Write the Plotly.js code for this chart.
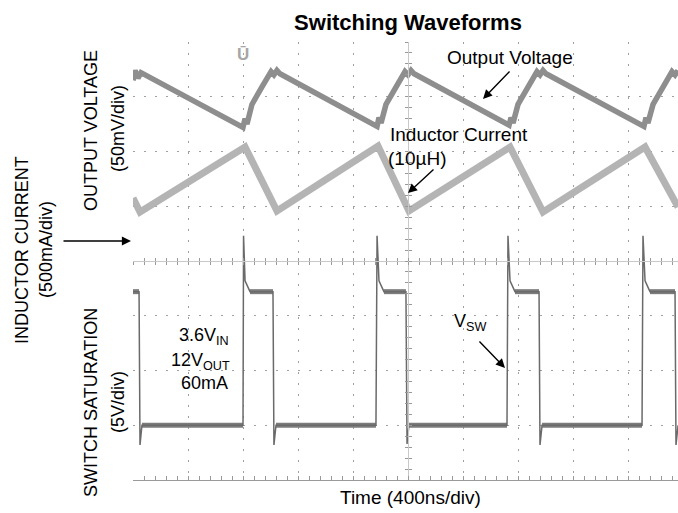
<!DOCTYPE html>
<html>
<head>
<meta charset="utf-8">
<script src="https://cdn.plot.ly/plotly-3.0.1.min.js"></script>
<style>html,body{margin:0;padding:0;background:#fff;}#chart{width:678px;height:513px;}</style>
</head>
<body>
<div id="chart"></div>
<script>
// ---- Channel settings (scope) ----
const TIME_PER_DIV = 400;          // ns/div
const VOUT_SCALE = 50;             // mV/div
const VOUT_OFFSET_DIV = 3.0;
const IL_SCALE = 500;              // mA/div
const IL_OFFSET_DIV = 0.5;
const SW_SCALE = 5;                // V/div
const SW_OFFSET_DIV = -3.06;

// ---- Output voltage ripple (AC coupled, mV) ----
const voutT  = [0, 15, 36, 58, 800, 815, 829, 865, 938, 1004, 1025, 1047, 1069,
                1775, 1789, 1804, 1840, 1913, 1978, 2000, 2022, 2044,
                2735, 2749, 2764, 2800, 2873, 2938, 2960, 2982, 3004,
                3716, 3731, 3745, 3782, 3855, 3920, 3942, 3964];
const voutMV = [15, 24, 17, 22, -28, -20, -25, -7, 9, 23, 20, 24, 21,
                -27, -19, -24, -7, 9, 23, 20, 24, 21,
                -26, -19, -24, -7, 9, 23, 20, 24, 21,
                -27, -19, -24, -7, 9, 23, 20, 24];

// ---- Inductor current (mA) ----
const ilT  = [0, 51, 815, 1047, 1782, 2007, 2742, 2982, 3724, 3964];
const ilMA = [325, 197, 791, 207, 800, 207, 791, 197, 791, 243];

// ---- Switch node voltage (V) ----
const swT = [0, 44, 51, 65, 800, 804, 815, 851, 1018, 1025, 1040,
             1767, 1775, 1789, 1825, 1985, 1993, 2007,
             2720, 2727, 2742, 2778, 2953, 2960, 2975,
             3702, 3709, 3724, 3760, 3942, 3949, 3964];
const swV = [12.5, 12.5, -1.5, 0.3, 0.3, 17.6, 13.5, 12.5, 12.5, -1.5, 0.3,
             0.3, 17.6, 13.5, 12.5, 12.5, -1.4, 0.3,
             0.3, 17.6, 13.5, 12.5, 12.5, -1.5, 0.3,
             0.3, 17.6, 13.5, 12.5, 12.5, -1.5, 0.3];

// convert to screen divisions
const voutDiv = voutMV.map(v => v / VOUT_SCALE + VOUT_OFFSET_DIV);
const ilDiv = ilMA.map(v => v / IL_SCALE + IL_OFFSET_DIV);
const swDiv = swV.map(v => v / SW_SCALE + SW_OFFSET_DIV);

// flat (noisy) segments of the switch waveform
const bandT = [], bandY = [];
for (let i = 0; i < swT.length - 1; i++) {
  if (swV[i] === swV[i + 1]) {
    bandT.push(swT[i], swT[i + 1], null);
    bandY.push(swDiv[i], swDiv[i + 1], null);
  }
}

const XMAX = 3963.6;
const FONT = 'Liberation Sans, Arial, sans-serif';

// plot area in pixels: left 133, right 678, top 42, bottom 480
const L = 133, R = 678, T = 42, B = 480;
function P(px, py) { return {x: (px - L) / (R - L), y: (B - py) / (B - T), xref: 'paper', yref: 'paper'}; }
function txt(text, px, py, opts) {
  return Object.assign(P(px, py), {text: text, showarrow: false,
    font: {family: FONT, size: 18, color: '#000'}, xanchor: 'center', yanchor: 'middle'}, opts || {});
}
function arrow(tx, ty, sx, sy) {
  return Object.assign(P(tx, ty), {text: '', showarrow: true, arrowhead: 2, arrowsize: 1.3,
    arrowwidth: 1.4, arrowcolor: '#000', ax: sx - tx, ay: sy - ty, axref: 'pixel', ayref: 'pixel'});
}

const traces = [
  {x: voutT, y: voutDiv, mode: 'lines', line: {color: '#8e8e8e', width: 5.5}, hoverinfo: 'skip'},
  {x: ilT, y: ilDiv, mode: 'lines', line: {color: '#b4b4b4', width: 7}, hoverinfo: 'skip'},
  {x: bandT, y: bandY, mode: 'lines', line: {color: '#7c7c7c', width: 5}, hoverinfo: 'skip', connectgaps: false},
  {x: swT, y: swDiv, mode: 'lines', line: {color: '#6a6a6a', width: 1.5}, hoverinfo: 'skip'},
  {x: [], y: [], xaxis: 'x2', yaxis: 'y', hoverinfo: 'skip'},
  {x: [], y: [], xaxis: 'x3', yaxis: 'y', hoverinfo: 'skip'},
  {x: [], y: [], xaxis: 'x', yaxis: 'y2', hoverinfo: 'skip'},
  {x: [], y: [], xaxis: 'x', yaxis: 'y3', hoverinfo: 'skip'}
];

const centerX = (5 * TIME_PER_DIV) / XMAX;
const tickStyle = {tickcolor: '#999', ticklen: 3, tickwidth: 1};
const minorX = (side) => ({dtick: TIME_PER_DIV / 5, tick0: 0, ticks: side, ticklen: 3, tickcolor: '#999', showgrid: false});
const minorY = (side) => ({dtick: 0.2, tick0: 0, ticks: side, ticklen: 3, tickcolor: '#999', showgrid: false});

const layout = {
  width: 678, height: 513,
  margin: {l: L, r: 678 - R, t: T, b: 513 - B, pad: 0},
  paper_bgcolor: '#fff', plot_bgcolor: '#fff',
  showlegend: false,
  title: {text: '<b>Switching Waveforms</b>', font: {family: FONT, size: 22, color: '#000'},
          xref: 'paper', x: (408 - L) / (R - L), xanchor: 'center', yref: 'container', y: 1 - 22 / 513, yanchor: 'middle'},
  xaxis: {range: [0, XMAX], dtick: TIME_PER_DIV, tick0: 0, showticklabels: false, zeroline: false,
          showgrid: true, gridcolor: '#a0a0a0', gridwidth: 1, griddash: '2px,9px',
          showline: true, linecolor: '#9a9a9a', linewidth: 1, ticks: 'inside', ticklen: 4, tickcolor: '#999',
          minor: {dtick: TIME_PER_DIV / 5, tick0: 0, ticks: 'inside', ticklen: 4, tickcolor: '#999', showgrid: false}},
  yaxis: {range: [-4, 4], dtick: 1, tick0: 0, showticklabels: false, zeroline: false,
          showgrid: true, gridcolor: '#a0a0a0', gridwidth: 1, griddash: '2px,9px', showline: false, ticks: ''},
  xaxis2: Object.assign({overlaying: 'x', anchor: 'free', position: 0.5, range: [0, XMAX], dtick: TIME_PER_DIV, tick0: 0,
          showticklabels: false, showgrid: false, zeroline: false, showline: true, linecolor: '#c8c8c8', linewidth: 1,
          ticks: 'outside', minor: minorX('outside')}, tickStyle),
  xaxis3: Object.assign({overlaying: 'x', anchor: 'free', position: 0.5, range: [0, XMAX], dtick: TIME_PER_DIV, tick0: 0,
          showticklabels: false, showgrid: false, zeroline: false, showline: false, side: 'bottom',
          ticks: 'inside', minor: minorX('inside')}, tickStyle),
  yaxis2: Object.assign({overlaying: 'y', anchor: 'free', position: centerX, range: [-4, 4], dtick: 1, tick0: 0,
          showticklabels: false, showgrid: false, zeroline: false, showline: true, linecolor: '#c8c8c8', linewidth: 1,
          ticks: 'outside', minor: minorY('outside')}, tickStyle),
  yaxis3: Object.assign({overlaying: 'y', anchor: 'free', position: centerX, range: [-4, 4], dtick: 1, tick0: 0,
          showticklabels: false, showgrid: false, zeroline: false, showline: false,
          ticks: 'inside', minor: minorY('inside')}, tickStyle),
  annotations: [
    txt('OUTPUT VOLTAGE', 91, 131, {textangle: -90}),
    txt('(50mV/div)', 118, 129, {textangle: -90}),
    txt('INDUCTOR CURRENT', 22, 250, {textangle: -90}),
    txt('(500mA/div)', 46, 250, {textangle: -90}),
    txt('SWITCH SATURATION', 91, 403, {textangle: -90}),
    txt('(5V/div)', 118, 402, {textangle: -90}),
    arrow(131, 241, 62, 241),
    txt('Output Voltage', 445, 57, {xanchor: 'left', font: {family: FONT, size: 19, color: '#000'}}),
    arrow(483, 99, 511, 70),
    txt('Inductor Current', 388, 134, {xanchor: 'left', font: {family: FONT, size: 19, color: '#000'}}),
    txt('(10µH)', 386, 158, {xanchor: 'left', font: {family: FONT, size: 19, color: '#000'}}),
    arrow(408, 193, 435, 168),
    txt('3.6V<sub>IN</sub>', 231, 336, {xanchor: 'right'}),
    txt('12V<sub>OUT</sub>', 232, 361, {xanchor: 'right'}),
    txt('60mA', 230, 383, {xanchor: 'right'}),
    txt('V<sub>SW</sub>', 452, 322, {xanchor: 'left'}),
    arrow(505, 368, 478, 340),
    txt('Time (400ns/div)', 410, 497, {font: {family: FONT, size: 19, color: '#000'}}),
    txt('<b>Ū</b>', 243, 54, {font: {family: FONT, size: 17, color: '#a6a6a6'}})
  ]
};

Plotly.newPlot('chart', traces, layout, {staticPlot: true, displayModeBar: false});
</script>
</body>
</html>
